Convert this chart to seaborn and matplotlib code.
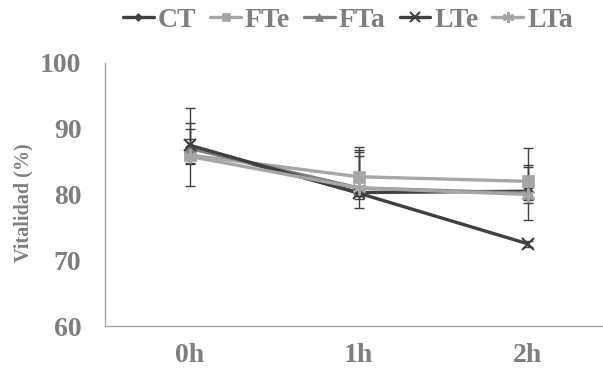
import matplotlib
matplotlib.use("Agg")
import matplotlib.pyplot as plt
import seaborn as sns
import pandas as pd
import numpy as np

times = ["0h", "1h", "2h"]
series = ["CT", "FTe", "FTa", "LTe", "LTa"]
CT = [87.2, 80.3, 80.5]
FTe = [86.0, 82.7, 82.0]
FTa = [87.0, 81.0, 80.2]
LTe = [87.5, 80.2, 72.5]
LTa = [85.8, 81.0, 80.0]
CT_up = [6.0, 5.6, 4.0]
CT_dn = [1.0, 1.0, 1.0]
FTe_up = [4.9, 4.6, 5.1]
FTe_dn = [4.7, 4.7, 5.9]
FTa_up = [1.5, 5.7, 4.0]
FTa_dn = [1.0, 1.0, 1.0]
LTe_up = [2.5, 0.5, 0.5]
LTe_dn = [2.9, 0.5, 0.5]
LTa_up = [1.0, 5.4, 1.0]
LTa_dn = [1.0, 1.0, 1.3]

vals = {"CT": CT, "FTe": FTe, "FTa": FTa, "LTe": LTe, "LTa": LTa}
ups = {"CT": CT_up, "FTe": FTe_up, "FTa": FTa_up, "LTe": LTe_up, "LTa": LTa_up}
dns = {"CT": CT_dn, "FTe": FTe_dn, "FTa": FTa_dn, "LTe": LTe_dn, "LTa": LTa_dn}

colors = {"CT": "#404040", "FTe": "#a6a6a6", "FTa": "#7f7f7f", "LTe": "#404040", "LTa": "#a6a6a6"}
markers = {"CT": "D", "FTe": "s", "FTa": "^", "LTe": "x", "LTa": (6, 2, 0)}
msizes = {"CT": 5, "FTe": 8, "FTa": 8, "LTe": 9, "LTa": 10}

rows = []
for s in series:
    for i, t in enumerate(times):
        rows.append({"x": i, "v": vals[s][i], "s": s})
df = pd.DataFrame(rows)

sns.set_style("white")
plt.rcParams["font.family"] = ["Liberation Serif", "DejaVu Serif"]
plt.rcParams["font.weight"] = "bold"

fig = plt.figure(figsize=(6.03, 3.73), dpi=100)
ax = fig.add_axes([105 / 603, 1 - 326 / 373, (612.5 - 105) / 603, (326 - 63) / 373])

for s in series:
    ax.errorbar(range(len(times)), vals[s], yerr=[dns[s], ups[s]], fmt="none",
                ecolor="#404040", elinewidth=1.0, capsize=3.5, capthick=1.0, zorder=2)

for s in series:
    sub = df[df["s"] == s]
    sns.lineplot(data=sub, x="x", y="v", ax=ax, color=colors[s], linewidth=2.4,
                 marker=markers[s], markersize=msizes[s], markeredgecolor=colors[s],
                 markeredgewidth=1.5 if s in ("LTe", "LTa") else 0.5,
                 label=s, zorder=3, legend=False)

ax.set_xlim(-0.5, 2.5)
ax.set_ylim(60, 100)
ax.set_yticks([60, 70, 80, 90, 100])
ax.set_xticks(range(len(times)))
ax.set_xticklabels(times)
ax.tick_params(axis="both", length=0, labelsize=20, colors="#7f7f7f")
ax.tick_params(axis="y", pad=17)
ax.tick_params(axis="x", pad=12)
for lab in ax.get_xticklabels() + ax.get_yticklabels():
    lab.set_fontweight("bold")
ax.set_xlabel("")
ax.set_ylabel("Vitalidad (%)", fontsize=14.5, fontweight="bold", color="#7f7f7f")
ax.yaxis.set_label_coords(-(105 - 33) / 507.5, 0.47)
for side in ["top", "right"]:
    ax.spines[side].set_visible(False)
for side in ["left", "bottom"]:
    ax.spines[side].set_color("#a6a6a6")
    ax.spines[side].set_linewidth(1.0)

handles, labels = ax.get_legend_handles_labels()
fig.legend(handles, labels, loc="center", bbox_to_anchor=(348 / 603, 1 - 20 / 373), ncol=5,
           frameon=False, prop={"size": 20, "weight": "bold"}, labelcolor="#7f7f7f",
           handlelength=1.1, handletextpad=0.15, columnspacing=0.5, markerscale=0.8)

fig.savefig("out.png", dpi=100)
